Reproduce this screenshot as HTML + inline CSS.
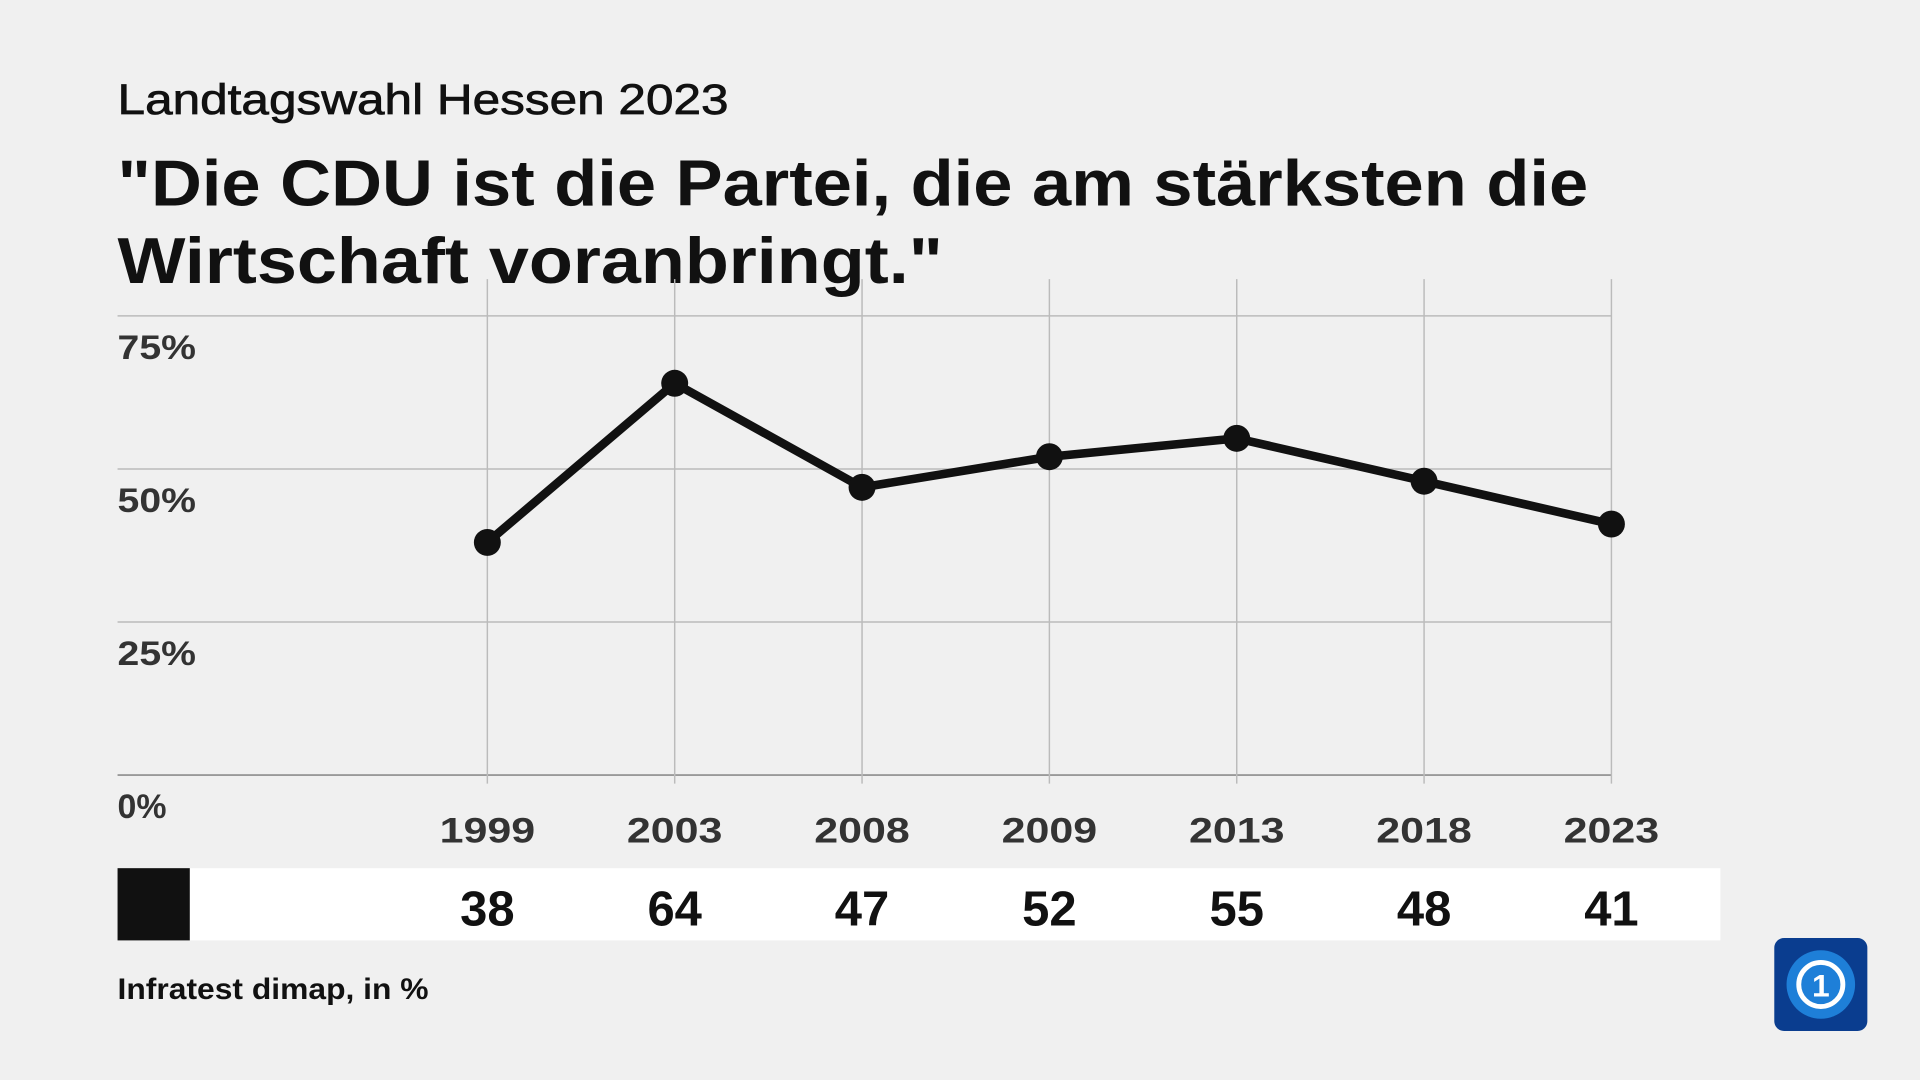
<!DOCTYPE html>
<html><head><meta charset="utf-8"><style>
html,body{margin:0;padding:0;background:#f0f0f0;}
svg{display:block;}
text{font-family:"Liberation Sans",sans-serif;}
</style></head><body>
<svg id="chart" width="1920" height="1080" viewBox="0 0 1568 882" xmlns="http://www.w3.org/2000/svg">
<rect width="1568" height="882" fill="#f0f0f0"/>
<text x="96" y="93" font-size="35" fill="#111" stroke="#111" stroke-width="0.6" textLength="499" lengthAdjust="spacingAndGlyphs">Landtagswahl Hessen 2023</text>
<text x="96" y="168" font-size="53" font-weight="bold" fill="#111" textLength="1201" lengthAdjust="spacingAndGlyphs">"Die CDU ist die Partei, die am stärksten die</text>
<text x="96" y="231" font-size="53" font-weight="bold" fill="#111" textLength="674" lengthAdjust="spacingAndGlyphs">Wirtschaft voranbringt."</text>
<g id="grid"></g>
<g id="marks"></g>
<rect x="96" y="709" width="1309" height="59" fill="#fff"/>
<rect x="96" y="709" width="59" height="59" fill="#111"/>
<g id="vals"></g>
<text x="96" y="816" font-size="24" font-weight="bold" fill="#111" textLength="254" lengthAdjust="spacingAndGlyphs">Infratest dimap, in %</text>
<g>
<rect x="1449" y="766" width="76" height="76" rx="8" fill="#0a3d8f"/>
<circle cx="1487" cy="804" r="28" fill="#1e7fd8"/>
<circle cx="1487" cy="804" r="18" fill="none" stroke="#fff" stroke-width="4"/>
<text x="1487" y="814" font-size="26" font-weight="bold" fill="#fff" text-anchor="middle">1</text>
</g>
</svg>
<script>
const years=["1999","2003","2008","2009","2013","2018","2023"];
const values=[38,64,47,52,55,48,41];
const yTicks=[0,25,50,75];
const NS="http://www.w3.org/2000/svg";
const x0=398,dx=153;
function xs(i){return x0+i*dx;}
function ys(v){return 633-v*5;}
function mk(tag,attrs,parent,txt){const e=document.createElementNS(NS,tag);for(const k in attrs)e.setAttribute(k,attrs[k]);if(txt!==undefined)e.textContent=txt;parent.appendChild(e);return e;}
const grid=document.getElementById('grid'),marks=document.getElementById('marks'),vals=document.getElementById('vals');
yTicks.forEach(t=>{
 const l=mk('line',{x1:96,x2:1316,y1:ys(t),y2:ys(t),stroke:t===0?'#999':'#bbb','stroke-width':t===0?1.5:1.2},grid);
 
 
 const lab=t+'%';
 const tx=mk('text',{x:96,y:ys(t)+35,'font-size':28,'font-weight':'bold',fill:'#333',textLength:lab.length===2?40:64,lengthAdjust:'spacingAndGlyphs'},grid,lab);
 
 
});
years.forEach((y,i)=>{
 const l=mk('line',{x1:xs(i),x2:xs(i),y1:228,y2:640,stroke:'#bbb','stroke-width':1.2},grid);
 
 
 const tx=mk('text',{x:xs(i),y:688,'font-size':29,'font-weight':'bold',fill:'#333','text-anchor':'middle',textLength:78,lengthAdjust:'spacingAndGlyphs'},grid,y);
 
 
 const v=mk('text',{x:xs(i),y:756,'font-size':40,'font-weight':'bold',fill:'#111','text-anchor':'middle'},vals,values[i]);
 
 
});
const p=mk('polyline',{points:values.map((v,i)=>xs(i)+','+ys(v)).join(' '),fill:'none',stroke:'#111','stroke-width':7,'stroke-linejoin':'round'},marks);


values.forEach((v,i)=>{
 const c=mk('circle',{cx:xs(i),cy:ys(v),r:11,fill:'#111'},marks);
 
 
});
</script>
</body></html>
